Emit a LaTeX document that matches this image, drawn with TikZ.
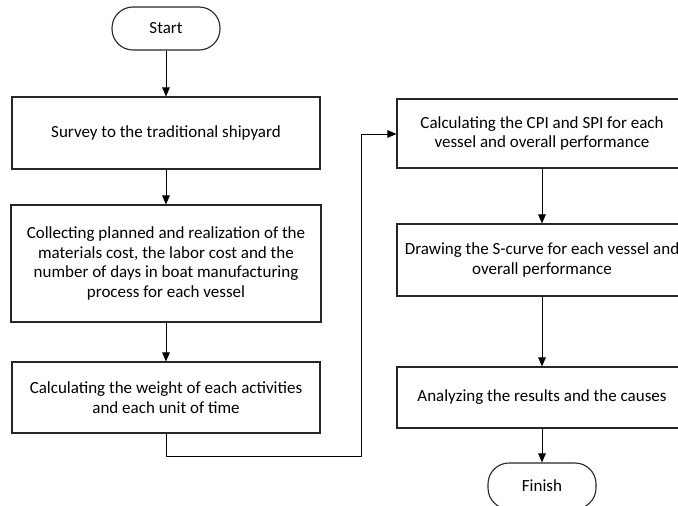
\documentclass[tikz,border=0pt]{standalone}
\usepackage{fontspec}
\setmainfont{Carlito}
\usepackage{tikz}
\usetikzlibrary{arrows.meta, positioning}

\tikzset{
	procbox/.style={draw=black!85, line width=1.1pt, rectangle, align=center,
		font=\fontsize{17}{19.5}\selectfont, inner sep=2pt},
	terminal/.style={draw=black!85, line width=1.1pt, rectangle, rounded corners=21pt,
		minimum width=108pt, minimum height=43pt, font=\fontsize{17}{19.5}\selectfont},
	flow/.style={draw=black, line width=1pt, -{Triangle[length=9pt,width=7.5pt]}}
}

\begin{document}
\begin{tikzpicture}[x=1pt,y=-1pt]
			\useasboundingbox (0,0) rectangle (678,506);
			
			% linke Spalte
			\node[terminal] (start) at (166,28.5) {Start};
			\node[procbox, minimum width=308pt, minimum height=72pt] (survey) at (166,133) {Survey to the traditional shipyard};
			\node[procbox, minimum width=310pt, minimum height=117pt] (collect) at (166,263.5)
				{Collecting planned and realization of the\\ materials cost, the labor cost and the\\ number of days in boat manufacturing\\ process for each vessel};
			\node[procbox, minimum width=308pt, minimum height=71pt] (weight) at (166,397.5)
				{Calculating the weight of each activities\\ and each unit of time};
			
			% rechte Spalte
			\node[procbox, minimum width=290pt, minimum height=69pt] (cpi) at (542,133.5)
				{Calculating the CPI and SPI for each\\ vessel and overall performance};
			\node[procbox, minimum width=290pt, minimum height=72pt] (scurve) at (542,260)
				{Drawing the S-curve for each vessel and\\ overall performance};
			\node[procbox, minimum width=290pt, minimum height=61pt] (analyze) at (542,397.5)
				{Analyzing the results and the causes};
			\node[terminal, minimum height=46pt] (finish) at (542,486) {Finish};
			
			% Pfeile
			\foreach \a/\b in {start/survey, survey/collect, collect/weight, cpi/scurve, scurve/analyze, analyze/finish} {
				\draw[flow] (\a) -- (\b);
			}
			
			% Verbindung zur rechten Spalte
			\coordinate (low) at (166,456);
			\coordinate (turn) at (361,456);
			\coordinate (up) at (361,134);
			\draw[flow] (weight.south) -- (low) -- (turn) -- (up) -- (up -| cpi.west);
		\end{tikzpicture}
\end{document}
